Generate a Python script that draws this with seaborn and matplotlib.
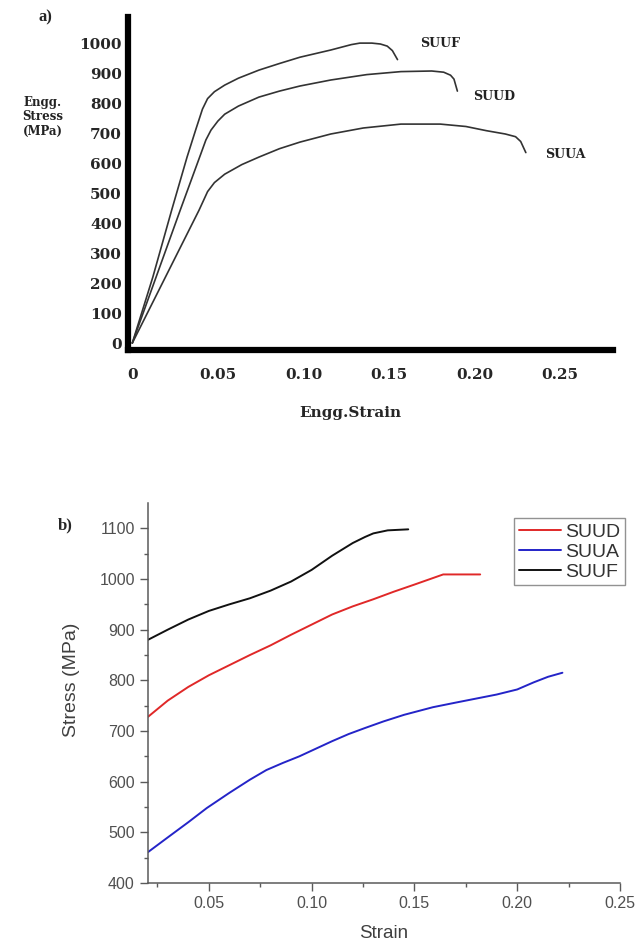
import numpy as np
import pandas as pd
import matplotlib
matplotlib.use("Agg")
import matplotlib.pyplot as plt
import seaborn as sns

# panel a) engineering stress-strain curves
a_names = ["SUUF", "SUUD", "SUUA"]
a_suuf_strain = [0, 0.012, 0.023, 0.032, 0.037, 0.041, 0.044, 0.048, 0.054, 0.062, 0.074, 0.086,
                 0.098, 0.116, 0.128, 0.133, 0.140, 0.145, 0.149, 0.152, 0.155]
a_suuf_stress = [0, 220, 443, 620, 710, 780, 815, 838, 860, 883, 910, 932,
                 953, 977, 995, 1000, 1000, 997, 990, 975, 945]
a_suud_strain = [0, 0.028, 0.040, 0.043, 0.046, 0.050, 0.054, 0.062, 0.074, 0.086, 0.098, 0.116,
                 0.137, 0.157, 0.175, 0.182, 0.186, 0.188, 0.190]
a_suud_stress = [0, 443, 630, 677, 710, 740, 763, 790, 820, 840, 857, 877,
                 895, 905, 907, 903, 893, 880, 840]
a_suua_strain = [0, 0.039, 0.044, 0.048, 0.054, 0.064, 0.074, 0.086, 0.098, 0.116, 0.135, 0.157,
                 0.180, 0.195, 0.207, 0.218, 0.224, 0.227, 0.230]
a_suua_stress = [0, 443, 505, 535, 563, 595, 620, 648, 670, 697, 717, 730,
                 730, 722, 708, 697, 688, 672, 635]
a_label_pos = {"SUUF": (0.168, 1000), "SUUD": (0.199, 822), "SUUA": (0.241, 627)}
a_xticks = [0, 0.05, 0.10, 0.15, 0.20, 0.25]
a_xticklabels = ["0", "0.05", "0.10", "0.15", "0.20", "0.25"]
a_yticks = [0, 100, 200, 300, 400, 500, 600, 700, 800, 900, 1000]

# panel b) stress-strain, plastic region
b_names = ["SUUD", "SUUA", "SUUF"]
b_colors = ["#e02828", "#2424c8", "#111111"]
b_suud_strain = [0.0204, 0.03, 0.04, 0.05, 0.06, 0.07, 0.08, 0.09, 0.10, 0.11, 0.12, 0.13,
                 0.14, 0.15, 0.164, 0.182]
b_suud_stress = [728, 760, 787, 810, 830, 850, 869, 890, 910, 930, 946, 960,
                 975, 989, 1009, 1009]
b_suua_strain = [0.0204, 0.03, 0.04, 0.049, 0.06, 0.07, 0.078, 0.086, 0.094, 0.102, 0.110, 0.118,
                 0.126, 0.135, 0.145, 0.159, 0.17, 0.18, 0.19, 0.20, 0.208, 0.215, 0.222]
b_suua_stress = [461, 490, 520, 548, 578, 604, 623, 637, 650, 665, 680, 694,
                 706, 719, 732, 747, 756, 764, 772, 782, 796, 807, 815]
b_suuf_strain = [0.0204, 0.03, 0.04, 0.05, 0.06, 0.07, 0.08, 0.09, 0.10, 0.11, 0.12, 0.126,
                 0.13, 0.137, 0.147]
b_suuf_stress = [880, 900, 920, 937, 950, 962, 977, 995, 1018, 1046, 1071, 1083,
                 1090, 1096, 1098]
b_xticks = [0.05, 0.10, 0.15, 0.20, 0.25]
b_yticks = [400, 500, 600, 700, 800, 900, 1000, 1100]

df_a = pd.concat([
    pd.DataFrame({"strain": a_suuf_strain, "stress": a_suuf_stress, "sample": "SUUF"}),
    pd.DataFrame({"strain": a_suud_strain, "stress": a_suud_stress, "sample": "SUUD"}),
    pd.DataFrame({"strain": a_suua_strain, "stress": a_suua_stress, "sample": "SUUA"}),
])
df_b = pd.concat([
    pd.DataFrame({"strain": b_suud_strain, "stress": b_suud_stress, "sample": "SUUD"}),
    pd.DataFrame({"strain": b_suua_strain, "stress": b_suua_stress, "sample": "SUUA"}),
    pd.DataFrame({"strain": b_suuf_strain, "stress": b_suuf_stress, "sample": "SUUF"}),
])

sns.set_style("white")
plt.rcParams["font.family"] = ["DejaVu Sans"]
serif = ["DejaVu Serif"]
times = ["Liberation Serif", "DejaVu Serif"]
sans = ["Liberation Sans", "DejaVu Sans"]

fig = plt.figure(figsize=(6.44, 9.40), dpi=100)

# ---- panel a
ax1 = fig.add_axes([0.1988, 0.6277, 0.7532, 0.3542])
sns.lineplot(data=df_a, x="strain", y="stress", hue="sample", hue_order=a_names,
             palette=["#333333"] * 3, sort=False, estimator=None, linewidth=1.2,
             legend=False, ax=ax1)
ax1.set_xlim(-0.0025, 0.281)
ax1.set_ylim(-23, 1087)
for s in ["top", "right"]:
    ax1.spines[s].set_visible(False)
for s in ["left", "bottom"]:
    ax1.spines[s].set_linewidth(4.5)
    ax1.spines[s].set_color("black")
ax1.set_xticks(a_xticks)
ax1.set_xticklabels(a_xticklabels, fontfamily=serif, fontweight="bold", fontsize=11)
ax1.set_yticks(a_yticks)
ax1.set_yticklabels([str(v) for v in a_yticks], fontfamily=serif, fontweight="bold", fontsize=11)
ax1.tick_params(axis="x", length=0, pad=13)
ax1.tick_params(axis="y", length=0, pad=4.5)
ax1.set_xlabel("")
ax1.set_ylabel("")
for name in a_names:
    x, y = a_label_pos[name]
    ax1.text(x, y, name, fontfamily=serif, fontweight="bold", fontsize=9,
             ha="left", va="center", color="#222222")
fig.text(43 / 644, 1 - 117 / 940, "Engg.\nStress\n(MPa)", fontfamily=serif,
         fontweight="bold", fontsize=8.5, ha="center", va="center",
         linespacing=1.15, color="#222222")
fig.text(350 / 644, 1 - 413 / 940, "Engg.Strain", fontfamily=serif,
         fontweight="bold", fontsize=11, ha="center", va="center")
fig.text(45 / 644, 1 - 17 / 940, "a)", fontfamily=times, fontweight="bold",
         fontsize=12, ha="center", va="center")

# ---- panel b
ax2 = fig.add_axes([0.2298, 0.0606, 0.7329, 0.4043])
sns.lineplot(data=df_b, x="strain", y="stress", hue="sample", hue_order=b_names,
             palette=b_colors, sort=False, estimator=None, linewidth=1.4, ax=ax2)
ax2.set_xlim(0.0204, 0.25)
ax2.set_ylim(400, 1150)
for s in ["top", "right"]:
    ax2.spines[s].set_visible(False)
for s in ["left", "bottom"]:
    ax2.spines[s].set_linewidth(1.1)
    ax2.spines[s].set_color("#5a5a5a")
ax2.set_xticks(b_xticks)
ax2.set_xticklabels(["%.2f" % v for v in b_xticks])
ax2.set_yticks(b_yticks)
ax2.set_xticks(np.arange(0.025, 0.25, 0.025), minor=True)
ax2.set_yticks(np.arange(450, 1150, 50), minor=True)
ax2.tick_params(axis="both", which="major", direction="out", length=6, width=1,
                color="#5a5a5a", labelcolor="#505050", labelsize=11.5)
ax2.tick_params(axis="both", which="minor", direction="out", length=3, width=1,
                color="#5a5a5a")
ax2.tick_params(axis="x", which="both", bottom=True)
ax2.tick_params(axis="y", which="both", left=True)
for lbl in ax2.get_xticklabels() + ax2.get_yticklabels():
    lbl.set_fontfamily(sans)
ax2.set_xlabel("Strain", fontfamily=sans, fontsize=13.5, color="#404040")
ax2.set_ylabel("Stress (MPa)", fontfamily=sans, fontsize=14, color="#404040")
ax2.xaxis.set_label_coords(0.5, -0.11)
ax2.yaxis.set_label_coords(-0.144, 0.535)
leg = ax2.legend(loc="upper right", bbox_to_anchor=(1.011, 0.96), frameon=True,
                 fancybox=False, handlelength=2.2, handletextpad=0.2,
                 borderpad=0.25, labelspacing=0.12, borderaxespad=0.0,
                 prop={"family": sans, "size": 14})
leg.get_frame().set_edgecolor("#777777")
leg.get_frame().set_linewidth(1.0)
for t in leg.get_texts():
    t.set_color("#333333")
fig.text(65 / 644, 1 - 525 / 940, "b)", fontfamily=times, fontweight="bold",
         fontsize=12, ha="center", va="center")

fig.savefig("out.png", dpi=100)
